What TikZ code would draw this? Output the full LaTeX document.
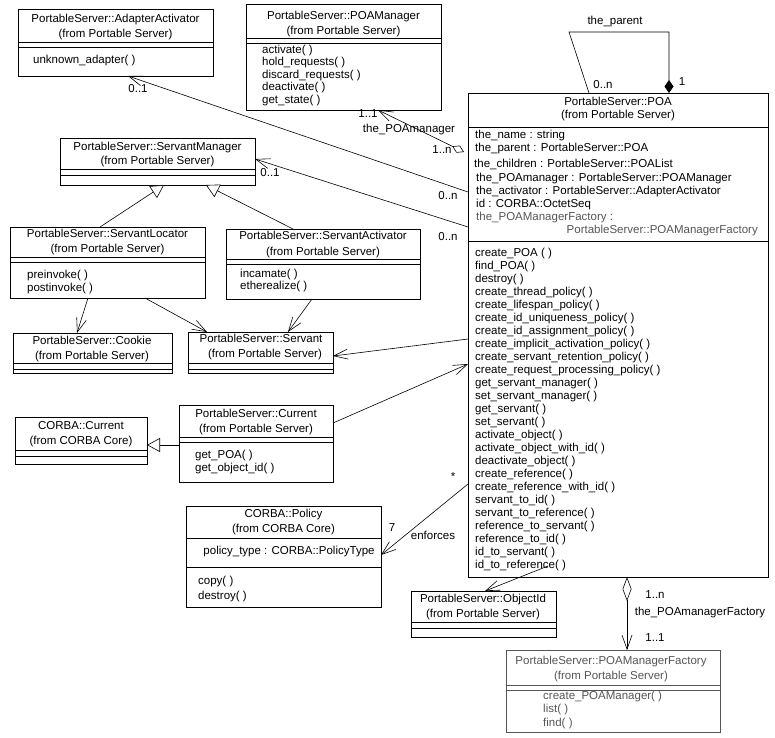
\documentclass[tikz,border=0pt]{standalone}
\usepackage{fontspec}
\setmainfont{Liberation Sans}
\usetikzlibrary{arrows.meta,calc}
\definecolor{umlgray}{RGB}{85,85,85}
\newcommand\sepl[3][black]{\draw[boxline,#1] ($(#2.north west)+(0,#3)$) -- ($(#2.north east)+(0,#3)$);}
\begin{document}
\begin{tikzpicture}[x=1pt,y=-1pt,
  font=\fontsize{11.5}{13}\selectfont,
  boxline/.style={line width=0.8pt},
  cls/.style={draw, line width=0.8pt, inner sep=0pt, outer sep=0pt, anchor=north west},
  ct/.style={anchor=base, inner sep=0pt},
  lt/.style={anchor=base west, inner sep=0pt},
  lbl/.style={inner sep=0pt},
  conn/.style={line width=0.6pt},
  openarr/.tip={Straight Barb[length=14pt,width=10pt]},
  gen/.tip={Triangle[open,length=13pt,width=14pt,fill=white]}
]
\useasboundingbox (0,0) rectangle (775,737);

% ---------- AdapterActivator
\node[cls, minimum width=195pt, minimum height=67pt] (aa) at (18,9) {};
\node[ct] (aat1) at (115.5,22) {PortableServer::AdapterActivator};
\node[ct] (aat2) at (115.5,37) {(from Portable Server)};
\sepl{aa}{33}\sepl{aa}{38}
\node[lt] (aao1) at (33,63) {unknown\_adapter( )};

% ---------- POAManager
\node[cls, minimum width=195pt, minimum height=106pt] (pm) at (246,4) {};
\node[ct] (pmt1) at (343.5,19) {PortableServer::POAManager};
\node[ct] (pmt2) at (343.5,34) {(from Portable Server)};
\sepl{pm}{34}\sepl{pm}{39}
\foreach \t [count=\i from 0] in {activate( ),hold\_requests( ),discard\_requests( ),deactivate( ),get\_state( )}
  \node[lt] (pmo\i) at (262,53+12.5*\i) {\t};

% ---------- POA
\node[cls, minimum width=300pt, minimum height=484pt] (poa) at (468,93) {};
\node[ct] (poat1) at (618,105) {PortableServer::POA};
\node[ct] (poat2) at (618,118) {(from Portable Server)};
\sepl{poa}{34}
\node[lt] (poaa1) at (475,138) {the\_name : string};
\node[lt] (poaa2) at (475,151.5) {the\_parent : PortableServer::POA};
\node[lt] (poaa3) at (474,167) {the\_children : PortableServer::POAList};
\node[lt] (poaa4) at (476,181) {the\_POAmanager : PortableServer::POAManager};
\node[lt] (poaa5) at (476,194) {the\_activator : PortableServer::AdapterActivator};
\node[lt] (poaa6) at (476,207) {id : CORBA::OctetSeq};
\node[lt, text=umlgray] (poaa7) at (476,220) {the\_POAManagerFactory :};
\node[anchor=base east, inner sep=0pt, text=umlgray] (poaa8) at (758,233) {PortableServer::POAManagerFactory};
\sepl{poa}{148}
\foreach \t [count=\i from 0] in {create\_POA ( ),find\_POA( ),destroy( ),create\_thread\_policy( ),create\_lifespan\_policy( ),create\_id\_uniqueness\_policy( ),create\_id\_assignment\_policy( ),create\_implicit\_activation\_policy( ),create\_servant\_retention\_policy( ),create\_request\_processing\_policy( ),get\_servant\_manager( ),set\_servant\_manager( ),get\_servant( ),set\_servant( ),activate\_object( ),activate\_object\_with\_id( ),deactivate\_object( ),create\_reference( ),create\_reference\_with\_id( ),servant\_to\_id( ),servant\_to\_reference( ),reference\_to\_servant( ),reference\_to\_id( ),id\_to\_servant( ),id\_to\_reference( )}
  \node[lt] (poao\i) at (475,256+13*\i) {\t};

% ---------- ServantManager
\node[cls, minimum width=195pt, minimum height=47pt] (sm) at (60,138) {};
\node[ct] (smt1) at (157.5,150) {PortableServer::ServantManager};
\node[ct] (smt2) at (157.5,164) {(from Portable Server)};
\sepl{sm}{31}\sepl{sm}{37}

% ---------- ServantLocator
\node[cls, minimum width=195pt, minimum height=71pt] (sl) at (10,227) {};
\node[ct] (slt1) at (107.5,237) {PortableServer::ServantLocator};
\node[ct] (slt2) at (107.5,252) {(from Portable Server)};
\sepl{sl}{30}\sepl{sl}{35}
\node[lt] (slo1) at (27,278) {preinvoke( )};
\node[lt] (slo2) at (27,291) {postinvoke( )};

% ---------- ServantActivator
\node[cls, minimum width=194pt, minimum height=70pt] (sa) at (226,229) {};
\node[ct] (sat1) at (323,239) {PortableServer::ServantActivator};
\node[ct] (sat2) at (323,255) {(from Portable Server)};
\sepl{sa}{30}\sepl{sa}{35}
\node[lt] (sao1) at (240,277) {incamate( )};
\node[lt] (sao2) at (240,289) {etherealize( )};

% ---------- Cookie
\node[cls, minimum width=159pt, minimum height=40pt] (ck) at (13,333) {};
\node[ct] (ckt1) at (92,344) {PortableServer::Cookie};
\node[ct] (ckt2) at (92,359) {(from Portable Server)};
\sepl{ck}{30}\sepl{ck}{36}

% ---------- Servant
\node[cls, minimum width=145pt, minimum height=41pt] (sv) at (188,332) {};
\node[ct] (svt1) at (261,342) {PortableServer::Servant};
\node[ct] (svt2) at (265,357) {(from Portable Server)};
\sepl{sv}{31}\sepl{sv}{37}

% ---------- CORBA::Current
\node[cls, minimum width=132pt, minimum height=47pt] (cc) at (15,417) {};
\node[ct] (cct1) at (81,429) {CORBA::Current};
\node[ct] (cct2) at (81,444) {(from CORBA Core)};
\sepl{cc}{33}\sepl{cc}{39}

% ---------- PortableServer::Current
\node[cls, minimum width=154pt, minimum height=77pt] (pc) at (179,405) {};
\node[ct] (pct1) at (256,417) {PortableServer::Current};
\node[ct] (pct2) at (256,432) {(from Portable Server)};
\sepl{pc}{32}\sepl{pc}{37}
\node[lt] (pco1) at (195,458) {get\_POA( )};
\node[lt] (pco2) at (195,471) {get\_object\_id( )};

% ---------- CORBA::Policy
\node[cls, minimum width=195pt, minimum height=101pt] (pol) at (186,506) {};
\node[ct] (polt1) at (283.5,517) {CORBA::Policy};
\node[ct] (polt2) at (283.5,532) {(from CORBA Core)};
\sepl{pol}{32}
\node[ct] (pola1) at (289,554) {policy\_type : CORBA::PolicyType};
\sepl{pol}{61}
\node[lt] (polo1) at (198,584) {copy( )};
\node[lt] (polo2) at (198,599) {destroy( )};

% ---------- ObjectId
\node[cls, minimum width=145pt, minimum height=46pt] (oid) at (411,591) {};
\node[ct] (oidt1) at (483,602) {PortableServer::ObjectId};
\node[ct] (oidt2) at (483,617) {(from Portable Server)};
\sepl{oid}{31}\sepl{oid}{37}

% ---------- POAManagerFactory
\node[cls, draw=umlgray, minimum width=214pt, minimum height=82pt] (pmf) at (506,650) {};
\node[ct, text=umlgray] (pmft1) at (611,664) {PortableServer::POAManagerFactory};
\node[ct, text=umlgray] (pmft2) at (611,679) {(from Portable Server)};
\sepl[umlgray]{pmf}{35}\sepl[umlgray]{pmf}{40}
\node[lt, text=umlgray] (pmfo1) at (543,699) {create\_POAManager( )};
\node[lt, text=umlgray] (pmfo2) at (543,712) {list( )};
\node[lt, text=umlgray] (pmfo3) at (543,726) {find( )};

% ---------- connectors
% self association
\draw[conn, {Diamond[length=13pt,width=9pt]}-] ($(poa.north west)+(201,0)$) -- (669,32) -- (569,32) -- ($(poa.north west)+(121,0)$);
\node[lbl] (l_parent) at (615,22) {the\_parent};
\node[lbl] (l_p0n) at (603,85) {0..n};
\node[lbl] (l_p1) at (682,82) {1};

% POA -> POAManager
\draw[conn, {Diamond[open,length=13pt,width=8pt]}-openarr] ($(poa.north west)+(-4,59)$) -- ($(pm.south west)+(132,0)$);
\node[lbl] (l_pm11) at (368,114) {1..1};
\node[lbl] (l_pmname) at (409,130) {the\_POAmanager};
\node[lbl] (l_pm1n) at (442,150) {1..n};

% POA -> AdapterActivator
\draw[conn, -openarr] ($(poa.north west)+(0,99)$) -- ($(aa.south west)+(110,0)$);
\node[lbl] (l_aa01) at (138,89) {0..1};
\node[lbl] (l_aa0n) at (448,196) {0..n};

% POA -> ServantManager
\draw[conn, -openarr] ($(poa.north west)+(0,134)$) -- ($(sm.north east)+(0,21)$);
\node[lbl] (l_sm01) at (270,173) {0..1};
\node[lbl] (l_sm0n) at (448,237) {0..n};

% generalizations to ServantManager
\draw[conn, -gen] ($(sl.north west)+(90,0)$) -- ($(sm.south west)+(104,0)$);
\draw[conn, -gen] ($(sa.north west)+(67,0)$) -- ($(sm.south west)+(146,0)$);

% dependencies to Cookie and Servant
\draw[conn, -openarr] ($(sl.south west)+(78,0)$) -- ($(ck.north west)+(64,0)$);
\draw[conn, -openarr] ($(sl.south west)+(135,0)$) -- ($(sv.north west)+(19,0)$);
\draw[conn, -openarr] ($(sa.south west)+(86,0)$) -- ($(sv.north west)+(100,0)$);

% POA -> Servant
\draw[conn, -openarr] ($(poa.north west)+(0,246)$) -- ($(sv.north east)+(0,24)$);

% Current -> POA
\draw[conn, -openarr] ($(pc.north east)+(0,18)$) -- ($(poa.north west)+(0,271)$);

% Current generalization
\draw[conn, -gen] ($(pc.north west)+(0,40)$) -- ($(cc.north east)+(0,28)$);

% POA -> Policy
\draw[conn, -openarr] ($(poa.north west)+(0,391)$) -- ($(pol.north east)+(0,49)$);
\node[lbl] (l_star) at (453,477) {*};
\node[lbl] (l_seven) at (392,528) {7};
\node[lbl] (l_enf) at (433,535) {enforces};

% POA -> ObjectId
\draw[conn, -openarr] ($(poa.north west)+(80,473)$) -- ($(oid.north west)+(74,0)$);

% POA -> POAManagerFactory
\draw[conn, {Diamond[open,length=24pt,width=9pt]}-openarr] ($(poa.south west)+(159,0)$) -- ($(pmf.north west)+(121,0)$);
\node[lbl] (l_f1n) at (655,595) {1..n};
\node[lbl] (l_fname) at (700,613) {the\_POAmanagerFactory};
\node[lbl] (l_f11) at (655,638) {1..1};
\end{tikzpicture}
\end{document}
